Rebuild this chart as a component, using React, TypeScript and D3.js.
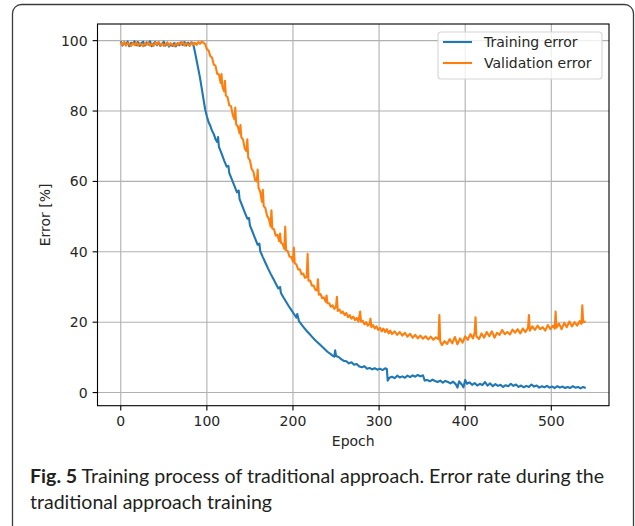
import React from 'react';
import * as d3 from 'd3';

// [epoch, error %]
const trainingError: [number, number][] = [
  [0, 99.8], [2, 98.6], [4, 99.5], [6, 98.9], [8, 99.7], [10, 98.4], [12, 99.4], [14, 99.0], [16, 99.8], [18, 98.7],
  [20, 99.6], [22, 98.5], [24, 99.3], [26, 99.7], [28, 98.6], [30, 99.5], [32, 98.9], [34, 99.8], [36, 98.4], [38, 99.2],
  [40, 99.6], [42, 98.7], [44, 99.5], [46, 98.5], [48, 99.1], [50, 99.7], [52, 98.6], [54, 99.4], [56, 98.3], [58, 99.0],
  [60, 98.5], [62, 99.3], [64, 98.4], [66, 99.2], [68, 98.7], [70, 99.5], [72, 98.8], [74, 99.6], [76, 98.6], [78, 99.4],
  [80, 98.9], [82, 99.5], [84, 99.2], [86, 97.0], [88, 94.5], [90, 92.0], [92, 89.5], [94, 86.5], [96, 83.5], [98, 80.5],
  [100, 78.5], [102, 76.8], [104, 75.8], [106, 74.4], [108, 73.5], [110, 72.0], [112, 71.2], [113, 72.6], [114, 69.8],
  [116, 68.6], [118, 67.3], [120, 66.0], [123, 64.2], [125, 64.4], [126, 62.4], [129, 60.6], [132, 58.7], [135, 56.9],
  [137, 57.4], [138, 55.0], [141, 53.1], [144, 51.2], [147, 49.4], [149, 49.6], [150, 47.5], [153, 45.7], [156, 43.8],
  [159, 42.0], [161, 42.3], [162, 40.2], [165, 38.5], [168, 36.9], [171, 35.3], [174, 33.8], [177, 32.4], [180, 31.0],
  [183, 29.6], [185, 30.0], [186, 28.3], [189, 27.0], [192, 25.8], [195, 24.6], [198, 23.5], [201, 22.4], [204, 21.3],
  [205, 22.3], [207, 20.3], [210, 19.3], [213, 18.4], [216, 17.5], [219, 16.7], [222, 15.9], [225, 15.1], [228, 14.4],
  [231, 13.7], [234, 13.0], [237, 12.3], [240, 11.6], [243, 11.1], [246, 10.5], [248, 10.2], [249, 12.0], [250, 10.4],
  [253, 10.1], [256, 9.5], [259, 9.0], [262, 8.9], [265, 8.3], [268, 8.6], [271, 7.9],
  [274, 8.1], [277, 7.4], [280, 7.2], [283, 7.5], [286, 6.8], [289, 7.0], [292, 6.6], [295, 6.9], [298, 6.5], [301, 6.8],
  [304, 6.4], [307, 6.9], [309, 6.7], [310, 3.4], [312, 4.2], [315, 4.5], [318, 4.1], [321, 4.8], [324, 4.3], [327, 4.6],
  [330, 4.2], [333, 4.8], [336, 4.4], [339, 4.9], [342, 4.5], [345, 5.0], [348, 4.6], [351, 4.9], [353, 3.4], [356, 3.6],
  [359, 3.2], [362, 3.7], [365, 3.3], [368, 3.0], [371, 3.4], [374, 2.8], [377, 3.3], [380, 3.0], [383, 2.6], [386, 3.1],
  [389, 2.4], [391, 1.4], [393, 3.2], [396, 2.3], [398, 1.5], [400, 3.6], [402, 2.5], [405, 2.9], [408, 2.2], [411, 2.7],
  [414, 2.0], [417, 2.5], [420, 2.1], [423, 3.0], [426, 2.0], [429, 2.6], [432, 1.8], [435, 2.4], [438, 1.9], [441, 2.2],
  [444, 1.6], [447, 2.1], [450, 1.8], [453, 2.5], [456, 1.9], [459, 2.3], [462, 1.6], [465, 2.0], [468, 1.5], [471, 1.9],
  [474, 1.6], [477, 2.3], [480, 1.7], [483, 2.0], [486, 1.4], [489, 1.8], [492, 1.5], [495, 1.9], [498, 1.4], [501, 1.7],
  [504, 1.3], [507, 1.8], [510, 1.4], [513, 1.7], [516, 1.3], [519, 1.6], [522, 1.3], [525, 1.8], [528, 1.4], [531, 1.6],
  [534, 1.2], [537, 1.6], [540, 1.3],
];

const validationError: [number, number][] = [
  [0, 99.5], [2, 98.8], [4, 99.6], [6, 98.6], [8, 99.3], [10, 99.0], [12, 98.5], [14, 99.4], [16, 98.7], [18, 99.5],
  [20, 98.6], [22, 99.2], [24, 98.9], [26, 98.4], [28, 99.3], [30, 98.8], [32, 99.5], [34, 98.6], [36, 99.1], [38, 98.5],
  [40, 99.4], [42, 98.9], [44, 99.6], [46, 98.7], [48, 99.2], [50, 98.5], [52, 99.0], [54, 99.5], [56, 98.6], [58, 99.3],
  [60, 98.8], [62, 98.4], [64, 99.2], [66, 98.7], [68, 99.4], [70, 98.9], [72, 99.6], [74, 98.6], [76, 99.3], [78, 99.0],
  [80, 98.5], [82, 99.5], [84, 98.9], [86, 99.4], [88, 98.8], [90, 99.6], [92, 99.1], [94, 99.7], [96, 99.4], [98, 99.0],
  [100, 97.6], [102, 97.2], [104, 95.6], [106, 95.2], [108, 93.2], [110, 92.9], [112, 90.6], [114, 90.4], [116, 88.0],
  [117, 90.5], [118, 87.0], [120, 85.6], [121, 88.6], [122, 84.4], [124, 84.0], [126, 81.6], [128, 81.4], [130, 79.0],
  [132, 77.6], [133, 81.0], [134, 76.2], [136, 75.6], [138, 73.6], [139, 76.0], [140, 72.6], [142, 71.9], [144, 69.4],
  [146, 68.6], [147, 72.0], [148, 66.8], [150, 66.0], [152, 63.6], [154, 62.8], [156, 60.4], [158, 60.0], [159, 63.4],
  [160, 58.2], [162, 57.0], [164, 54.2], [165, 57.6], [166, 53.0], [168, 52.4], [170, 50.2], [172, 49.4], [174, 47.2],
  [175, 51.8], [176, 46.6], [178, 46.4], [180, 44.6], [182, 44.8], [184, 43.0], [185, 45.2], [186, 42.6], [188, 42.2],
  [190, 40.8], [191, 47.2], [192, 40.4], [194, 40.2], [196, 38.6], [198, 38.6], [200, 37.2], [201, 41.2], [202, 36.8],
  [204, 36.4], [206, 35.0], [208, 35.0], [210, 33.6], [212, 33.8], [214, 32.6], [216, 32.8], [217, 39.4], [218, 31.8],
  [220, 31.8], [222, 30.4], [224, 30.4], [226, 29.2], [228, 29.0], [229, 32.2], [230, 27.8], [232, 28.0], [234, 26.8],
  [236, 27.0], [238, 25.8], [239, 27.6], [240, 25.4], [242, 25.4], [244, 24.4], [246, 24.8], [248, 23.8], [250, 24.4],
  [251, 27.2], [252, 23.2], [254, 23.6], [256, 22.6], [258, 23.0], [260, 22.0], [262, 22.6], [264, 21.4], [266, 22.0],
  [268, 21.0], [270, 21.6], [272, 20.6], [274, 21.2], [276, 20.2], [278, 23.0], [279, 20.2], [281, 20.4], [283, 19.4],
  [285, 20.0], [287, 19.0], [289, 19.6], [290, 21.0], [291, 18.6], [293, 19.2], [295, 18.2], [297, 18.8], [299, 17.8],
  [301, 18.4], [303, 17.4], [305, 18.2], [307, 17.2], [309, 18.0], [311, 16.8], [313, 17.6], [315, 16.6], [318, 17.4],
  [321, 16.4], [324, 17.2], [327, 16.2], [330, 17.0], [333, 15.9], [336, 16.7], [339, 15.6], [342, 16.4], [345, 15.4],
  [348, 16.2], [351, 15.3], [354, 16.0], [357, 15.1], [360, 15.9], [363, 15.0], [366, 15.7], [369, 15.2], [370, 22.0],
  [371, 14.5], [373, 13.5], [376, 14.6], [379, 13.8], [382, 15.2], [385, 14.0], [388, 15.8], [391, 13.7], [394, 15.4],
  [397, 14.2], [400, 16.0], [403, 15.0], [406, 16.6], [409, 15.4], [411, 17.0], [412, 21.4], [413, 16.0], [416, 15.2],
  [419, 16.8], [422, 15.6], [425, 17.2], [428, 16.0], [431, 17.4], [434, 15.6], [437, 17.0], [440, 16.4], [443, 17.8],
  [446, 16.6], [449, 17.2], [452, 16.5], [455, 17.9], [458, 17.0], [461, 18.0], [464, 16.8], [467, 18.2], [470, 17.2],
  [473, 18.4], [474, 22.0], [475, 17.6], [478, 18.8], [481, 17.8], [484, 19.0], [487, 18.0], [490, 18.6], [493, 17.6],
  [496, 19.2], [499, 18.0], [502, 19.0], [504, 18.2], [505, 23.0], [506, 18.4], [509, 19.6], [512, 18.0], [515, 19.8],
  [518, 18.6], [521, 20.2], [524, 18.8], [527, 20.0], [530, 19.0], [533, 20.3], [535, 19.5], [536, 24.8], [537, 20.0],
  [540, 20.2],
];

const seriesNames = ['Training error', 'Validation error'];
const seriesColors = ['#1f77b4', '#ff7f0e'];
const xTicks = [0, 100, 200, 300, 400, 500];
const yTicks = [0, 20, 40, 60, 80, 100];

const W = 635;
const H = 526;
const box = { left: 97.5, right: 609, top: 24, bottom: 405.7 };
const font = 'DejaVu Sans, sans-serif';
const fs = 14;
const ink = '#262626';

export default function App() {
  const series = [trainingError, validationError];
  const all = series.flat();

  // matplotlib-style 5% margins around the data
  const [xa, xb] = d3.extent(all, d => d[0]) as [number, number];
  const [ya, yb] = d3.extent(all, d => d[1]) as [number, number];
  const xm = (xb - xa) * 0.05;
  const ym = (yb - ya) * 0.05;

  const x = d3.scaleLinear().domain([xa - xm, xb + xm]).range([box.left, box.right]);
  const y = d3.scaleLinear().domain([ya - ym, yb + ym]).range([box.bottom, box.top]);

  const line = d3.line<[number, number]>().x(d => x(d[0])).y(d => y(d[1]));

  const tick = 4.9;

  return (
    <svg width={W} height={H} style={{ position: 'absolute', left: 0, top: 0, display: 'block' }}>
      <rect x={0} y={0} width={W} height={H} fill="#fff" />
      <rect x={12.5} y={4.5} width={621} height={560} rx={9} fill="none" stroke="#3c3c3c" strokeWidth={1.3} />

      <defs>
        <clipPath id="plotclip">
          <rect x={box.left} y={box.top} width={box.right - box.left} height={box.bottom - box.top} />
        </clipPath>
      </defs>

      {/* grid */}
      <g stroke="#b0b0b0" strokeWidth={1.1}>
        {xTicks.map(t => (
          <line key={'gx' + t} x1={x(t)} x2={x(t)} y1={box.top} y2={box.bottom} />
        ))}
        {yTicks.map(t => (
          <line key={'gy' + t} x1={box.left} x2={box.right} y1={y(t)} y2={y(t)} />
        ))}
      </g>

      {/* curves */}
      <g clipPath="url(#plotclip)" fill="none" strokeWidth={2.1} strokeLinejoin="round">
        {series.map((s, i) => (
          <path key={seriesNames[i]} d={line(s) || ''} stroke={seriesColors[i]} />
        ))}
      </g>

      {/* spines */}
      <rect x={box.left} y={box.top} width={box.right - box.left} height={box.bottom - box.top}
        fill="none" stroke="#000" strokeWidth={1.1} />

      {/* x axis */}
      <g fontFamily={font} fontSize={fs} fill={ink}>
        {xTicks.map(t => (
          <g key={'xt' + t}>
            <line x1={x(t)} x2={x(t)} y1={box.bottom} y2={box.bottom + tick} stroke="#000" strokeWidth={1.1} />
            <text x={x(t)} y={box.bottom + 2 * tick + 0.76 * fs} textAnchor="middle">{t}</text>
          </g>
        ))}
        <text x={(box.left + box.right) / 2} y={446} textAnchor="middle">Epoch</text>
      </g>

      {/* y axis */}
      <g fontFamily={font} fontSize={fs} fill={ink}>
        {yTicks.map(t => (
          <g key={'yt' + t}>
            <line x1={box.left - tick} x2={box.left} y1={y(t)} y2={y(t)} stroke="#000" strokeWidth={1.1} />
            <text x={box.left - 2 * tick} y={y(t)} dy="0.36em" textAnchor="end">{t}</text>
          </g>
        ))}
        <text transform={`translate(50,${(box.top + box.bottom) / 2}) rotate(-90)`} textAnchor="middle">Error [%]</text>
      </g>

      {/* legend */}
      <g fontFamily={font} fontSize={fs}>
        <rect x={438} y={32} width={164} height={47} rx={3} fill="#fff" fillOpacity={0.8} stroke="#d6d6d6" strokeWidth={1.1} />
        {seriesNames.map((n, i) => (
          <g key={'lg' + n}>
            <line x1={443} x2={472} y1={42 + i * 21} y2={42 + i * 21} stroke={seriesColors[i]} strokeWidth={2.1} />
            <text x={484} y={42 + i * 21} dy="0.36em" fill={ink}>{n}</text>
          </g>
        ))}
      </g>

      {/* caption */}
      <g fontFamily="Lato, 'Open Sans', sans-serif" fontSize={19} fill="#231f20">
        <text x={30} y={483} textLength={574} lengthAdjust="spacingAndGlyphs">
          <tspan fontWeight="bold">Fig. 5</tspan> Training process of traditional approach. Error rate during the
        </text>
        <text x={30} y={509} textLength={242} lengthAdjust="spacingAndGlyphs">traditional approach training</text>
      </g>
    </svg>
  );
}
